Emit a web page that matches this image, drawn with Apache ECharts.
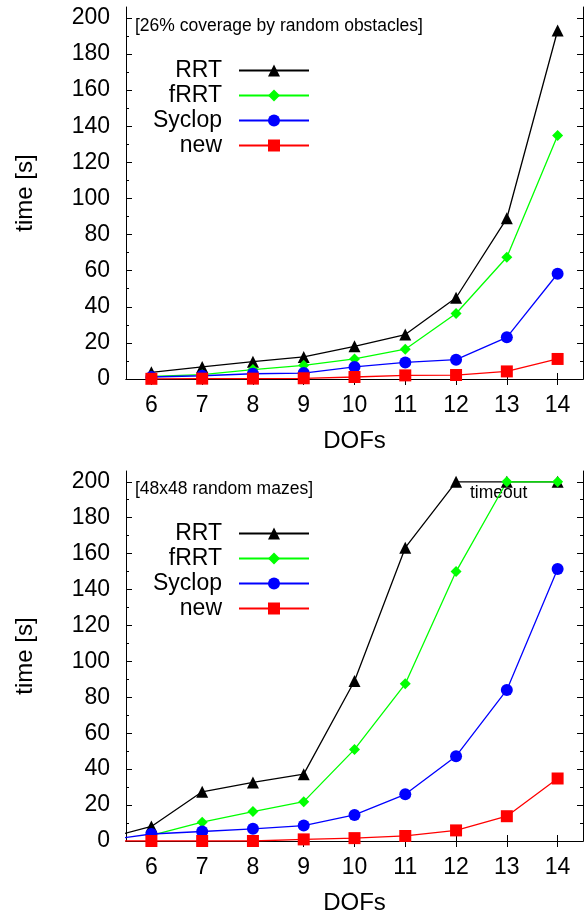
<!DOCTYPE html>
<html>
<head>
<meta charset="UTF-8"/>
<title>time vs DOFs</title>
<script src="https://cdn.jsdelivr.net/npm/echarts@6/dist/echarts.min.js"></script>
<style>
  html, body { margin: 0; padding: 0; background: #fff; }
  #chart { width: 585px; height: 916px; }
</style>
</head>
<body>
<div id="chart"></div>
<script>
// x values (DOFs)
var dofs = [6, 7, 8, 9, 10, 11, 12, 13, 14];
var dofsMaze = [5, 6, 7, 8, 9, 10, 11, 12, 13, 14];   // maze curves start left of the frame
var yTicks = [0, 20, 40, 60, 80, 100, 120, 140, 160, 180, 200];
var yMinor = [10, 30, 50, 70, 90, 110, 130, 150, 170, 190];

// top: 26% coverage by random obstacles
var rrtObs    = [3.7, 6.7, 9.6, 12.2, 18.1, 24.6, 45.0, 89.0, 193.0];
var frrtObs   = [1.5, 2.4, 5.2, 7.6, 11.1, 16.5, 36.3, 67.4, 134.8];
var syclopObs = [1.1, 1.8, 2.9, 3.3, 6.7, 9.2, 10.7, 23.1, 58.3];
var newObs    = [0.1, 0.2, 0.2, 0.4, 1.1, 2.0, 2.2, 4.2, 11.1];

// bottom: 48x48 random mazes (200 = timeout)
var rrtMaze    = [0.6, 8.1, 27.4, 32.6, 37.2, 89.1, 163.3, 200, 200, 200];
var frrtMaze   = [null, 3.1, 10.5, 16.4, 21.9, 51.0, 87.5, 150.0, 200, 200];
var syclopMaze = [0, 3.9, 5.3, 6.8, 8.6, 14.5, 26.0, 47.2, 84.1, 151.4];
var newMaze    = [0, 0, 0, 0, 0.9, 1.6, 2.8, 5.9, 13.8, 34.8];

var names = ['RRT', 'fRRT', 'Syclop', 'new'];
var colors = ['#000000', '#00ff00', '#0000ff', '#ff0000'];
var symbols = ['triangle', 'diamond', 'circle', 'rect'];
var symSizes = [12, 11, 12, 12];

var FONT = 'Liberation Sans, Arial, Helvetica, sans-serif';

function pairs(xs, ys) {
    var out = [];
    for (var i = 0; i < xs.length; i++) out.push([xs[i], ys[i]]);
    return out;
}

function xAxes(grid) {
    return [{
        gridIndex: grid, type: 'value', min: 5.5, max: 14.5,
        name: 'DOFs', nameLocation: 'middle', nameGap: 50,
        nameTextStyle: { fontFamily: FONT, fontSize: 24, color: '#000' },
        axisLine: { lineStyle: { color: '#000', width: 1 } },
        axisTick: { inside: true, length: 6, customValues: dofs, lineStyle: { color: '#000' } },
        axisLabel: { customValues: dofs, fontFamily: FONT, fontSize: 23, color: '#000', margin: 15 },
        splitLine: { show: false }
    }, {
        gridIndex: grid, type: 'value', min: 5.5, max: 14.5, position: 'top',
        axisLine: { lineStyle: { color: '#000', width: 1 } },
        axisTick: { inside: true, length: 6, customValues: dofs, lineStyle: { color: '#000' } },
        axisLabel: { show: false },
        splitLine: { show: false }
    }];
}

function yAxes(grid) {
    var base = { gridIndex: grid, type: 'value', min: 0, max: 206, splitLine: { show: false } };
    return [
        Object.assign({}, base, {
            position: 'left',
            name: 'time [s]', nameLocation: 'middle', nameGap: 89,
            nameTextStyle: { fontFamily: FONT, fontSize: 24, color: '#000' },
            axisLine: { show: true, lineStyle: { color: '#000', width: 1 } },
            axisTick: { inside: true, length: 6, customValues: yTicks, lineStyle: { color: '#000' } },
            axisLabel: { customValues: yTicks, fontFamily: FONT, fontSize: 23, color: '#000', margin: 16 }
        }),
        Object.assign({}, base, {
            position: 'left',
            axisLine: { show: false },
            axisTick: { inside: true, length: 3, customValues: yMinor, lineStyle: { color: '#000' } },
            axisLabel: { show: false }
        }),
        Object.assign({}, base, {
            position: 'right',
            axisLine: { show: true, lineStyle: { color: '#000', width: 1 } },
            axisTick: { inside: true, length: 6, customValues: yTicks, lineStyle: { color: '#000' } },
            axisLabel: { show: false }
        }),
        Object.assign({}, base, {
            position: 'right',
            axisLine: { show: false },
            axisTick: { inside: true, length: 3, customValues: yMinor, lineStyle: { color: '#000' } },
            axisLabel: { show: false }
        })
    ];
}

function makeSeries(xs, lists, xIdx, yIdx) {
    return lists.map(function (ys, i) {
        return {
            name: names[i], type: 'line',
            xAxisIndex: xIdx, yAxisIndex: yIdx,
            data: pairs(xs, ys),
            symbol: symbols[i], symbolSize: symSizes[i],
            showAllSymbol: true, clip: true,
            lineStyle: { color: colors[i], width: 1.3 },
            itemStyle: { color: colors[i] },
            emphasis: { disabled: true },
            animation: false
        };
    });
}

function legendAt(top) {
    return {
        data: names, orient: 'vertical', align: 'right',
        left: 137, top: top,
        itemWidth: 70, itemHeight: 15, itemGap: 2,
        selectedMode: false,
        textStyle: {
            fontFamily: FONT, fontSize: 23, color: '#000',
            width: 80, align: 'right', lineHeight: 20, padding: [0, 12, 0, 0]
        }
    };
}

var chart = echarts.init(document.getElementById('chart'), null, { renderer: 'canvas' });

chart.setOption({
    backgroundColor: '#fff',
    animation: false,
    title: [
        { text: '[26% coverage by random obstacles]', left: 135, top: 17,
          textStyle: { fontFamily: FONT, fontSize: 17.5, fontWeight: 'normal', color: '#000' }, padding: 0 },
        { text: '[48x48 random mazes]', left: 135, top: 480,
          textStyle: { fontFamily: FONT, fontSize: 17.5, fontWeight: 'normal', color: '#000' }, padding: 0 }
    ],
    legend: [legendAt(54), legendAt(517)],
    grid: [
        { left: 126, right: 2, top: 7, height: 372 },
        { left: 126, right: 2, top: 471, height: 371 }
    ],
    xAxis: xAxes(0).concat(xAxes(1)),
    yAxis: yAxes(0).concat(yAxes(1)),
    graphic: [
        { type: 'text', left: 470, top: 484,
          style: { text: 'timeout', font: '17.5px ' + FONT, fill: '#000' } }
    ],
    series: makeSeries(dofs, [rrtObs, frrtObs, syclopObs, newObs], 0, 0)
        .concat(makeSeries(dofsMaze, [rrtMaze, frrtMaze, syclopMaze, newMaze], 2, 4))
});
</script>
</body>
</html>
